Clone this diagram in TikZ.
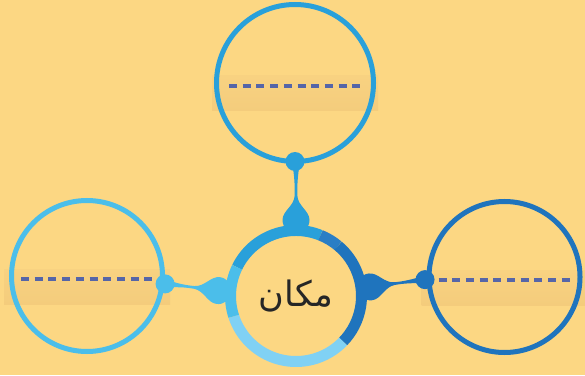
\documentclass[tikz,border=0pt]{standalone}
\usepackage{fontspec}
\usetikzlibrary{calc}
\newfontfamily\arabicfont[Script=Arabic]{DejaVu Sans}
\TeXXeTstate=1
\definecolor{bg}{HTML}{FCD783}
\definecolor{topblue}{HTML}{29A0DA}
\definecolor{midblue}{HTML}{2A7EC5}
\definecolor{darkblue}{HTML}{1F74BD}
\definecolor{paleblue}{HTML}{80D1F4}
\definecolor{skyblue}{HTML}{4BBEEA}
\definecolor{dashcol}{HTML}{5565A8}
\definecolor{bandtop}{HTML}{F8D281}
\definecolor{bandbot}{HTML}{F4CC7C}
\pgfdeclarelayer{back}
\pgfsetlayers{back,main}
\tikzset{
  leaf/.style={circle, draw, line width=5pt, minimum size=151pt, inner sep=0pt, outer sep=0pt},
  seg/.style={line width=11pt},
  band/.style={top color=bandtop, bottom color=bandbot},
  fillline/.style={dashcol, line width=3.2pt, dash pattern=on 8pt off 5.7pt}
}

\begin{document}
\begin{tikzpicture}[x=1pt, y=1pt]
  \useasboundingbox (0,0) rectangle (585,375);
  % centre and the three answer circles
  \node[circle, minimum size=142pt, inner sep=0pt] (hub) at (296,79)
    {\arabicfont\fontsize{35}{38}\selectfont\color{black!85}\beginR مكان\endR};
  \node[leaf, draw=topblue, minimum size=157pt] (top) at (295,292) {};
  \node[leaf, draw=skyblue] (lft) at (87,99) {};
  \node[leaf, draw=darkblue] (rgt) at (504.5,98) {};
  \begin{pgfonlayer}{back}
    \fill[bg] (0,0) rectangle (585,375);
    \foreach \n in {top,lft,rgt}
      \fill[band] ($(\n.center)+(-83,-28)$) rectangle ($(\n.center)+(83,7)$);
  \end{pgfonlayer}
  \foreach \n in {top,lft,rgt}
    \draw[fillline] ($(\n.center)+(-66,-3)$) -- ($(\n.center)+(66,-3)$);
  % connectors: bulb on the ring, thin neck, dot on the circle
  \coordinate (tb) at ($(hub.center)+(90:76)$);
  \coordinate (lb) at ($(hub.center)+(176:78)$);
  \coordinate (rb) at ($(hub.center)+(7:75)$);
  \coordinate (td) at (top.south);
  \coordinate (ld) at ($(lft.-6)+(3,0)$);
  \coordinate (rd) at ($(rgt.182)+(-4,0)$);
  \foreach \b/\d/\ang/\len/\c in {tb/td/90/58/topblue, lb/ld/172.5/53.5/skyblue, rb/rd/7.7/55.5/darkblue} {
    \fill[\c, shift={(\b)}, rotate=\ang] (0,-13.5) arc[start angle=-90, end angle=-270, radius=13.5]
      .. controls (9,13.5) and (14,2) .. (24,1.4)
      .. controls (33,1) and (\len-14,1.5) .. (\len,4) -- (\len,-4)
      .. controls (\len-14,-1.5) and (33,-1) .. (24,-1.4)
      .. controls (14,-2) and (9,-13.5) .. (0,-13.5) -- cycle;
    \fill[\c] (\d) circle[radius=9.5];
  }
  % coloured ring round the centre
  \foreach \a/\e/\c in {154/68/topblue, 68/50/midblue, 50/-44/darkblue, -44/-162/paleblue, 198/154/skyblue}
    \draw[seg, \c] ($(hub.center)+(\a:65.5)$) arc[start angle=\a, end angle=\e, radius=65.5];
\end{tikzpicture}
\end{document}
